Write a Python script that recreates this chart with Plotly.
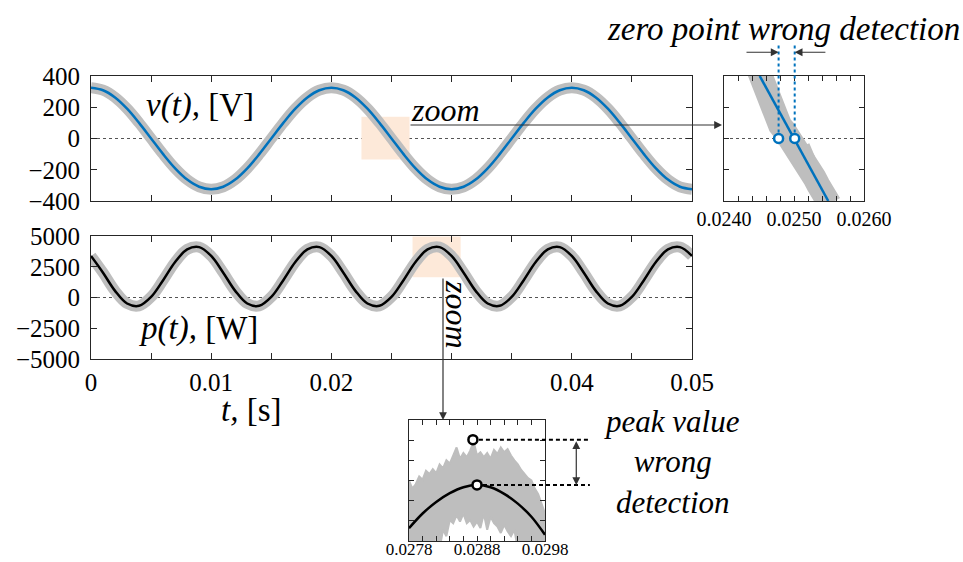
import plotly.graph_objects as go

W, H = 963, 562
SERIF = "Liberation Serif"
GRAY = "#bebebe"
BLUE = "#0072bd"
AX = "#262626"

# ---------------- main signals ----------------
T = [i / 1000 for i in range(51)]
V = [325, 309, 263, 191, 100, 0, -100, -191, -263, -309,
     -325, -309, -263, -191, -100, 0, 100, 191, 263, 309,
     325, 309, 263, 191, 100, 0, -100, -191, -263, -309,
     -325, -309, -263, -191, -100, 0, 100, 191, 263, 309,
     325, 309, 263, 191, 100, 0, -100, -191, -263, -309, -325]
P = [3375, 2014, 539, -489, -676, 45, 1406, 2881, 3909, 4096,
     3375, 2014, 539, -489, -676, 45, 1406, 2881, 3909, 4096,
     3375, 2014, 539, -489, -676, 45, 1406, 2881, 3909, 4096,
     3375, 2014, 539, -489, -676, 45, 1406, 2881, 3909, 4096,
     3375, 2014, 539, -489, -676, 45, 1406, 2881, 3909, 4096, 3375]

X_TICK_VALS = [0, 0.005, 0.01, 0.015, 0.02, 0.025, 0.03, 0.035, 0.04, 0.045, 0.05]
X_TICK_TEXT = ["0", "", "0.01", "", "0.02", "", "", "", "0.04", "", "0.05"]
V_TICKS = [-400, -200, 0, 200, 400]
P_TICKS = [-5000, -2500, 0, 2500, 5000]
P_TICK_TEXT = ["\u22125000", "\u22122500", "0", "2500", "5000"]

ZOOM_V_BOX_T = [0.0225, 0.0265]
ZOOM_V_BOX_V = [-135, 140]
ZOOM_P_BOX_T = [0.02675, 0.03075]
ZOOM_P_BOX_P = [1650, 4950]

# ---------------- inset 1 : zero point ----------------
Z1_RANGE = [0.024, 0.026]
Z1_TICK_VALS = [0.0240, 0.0242, 0.0244, 0.0246, 0.0248, 0.0250,
                0.0252, 0.0254, 0.0256, 0.0258, 0.0260]
Z1_TICK_TEXT = ["0.0240", "", "", "", "", "0.0250", "", "", "", "", "0.0260"]
Z1_GRAY_T = [0.02450, 0.02454, 0.02458, 0.02461, 0.02466, 0.02470, 0.02474,
             0.02480, 0.02486, 0.02493, 0.02500, 0.02507, 0.02513, 0.02519,
             0.02524, 0.02529, 0.02535, 0.02541, 0.02546, 0.02551]
Z1_GRAY_V = [430, 370, 310, 270, 224, 180, 138, 85, 52, 10, -34, -60, -99,
             -163, -200, -249, -300, -336, -370, -420]
Z1_BUMP_T = [0.02514, 0.02522]
Z1_BUMP_V = [-45, -130]
Z1_LINE_T = [0.02451, 0.02549]
Z1_LINE_V = [400, -400]
Z1_DET_T = [0.02478, 0.02501]
Z1_DET_V = [0, 0]

# ---------------- inset 2 : peak value ----------------
Z2_RANGE = [0.0278, 0.0298]
Z2_Y_RANGE = [3500, 5000]
Z2_TICK_VALS = [0.0278, 0.0280, 0.0282, 0.0284, 0.0286, 0.0288,
                0.0290, 0.0292, 0.0294, 0.0296, 0.0298]
Z2_TICK_TEXT = ["0.0278", "", "", "", "", "0.0288", "", "", "", "", "0.0298"]
Z2_Y_TICKS = [3750, 4000, 4250, 4500, 4750]
Z2_NOISE_T = [round(0.0278 + k * 0.00005, 6) for k in range(41)]
Z2_UPPER = [4248, 4150, 4207, 4300, 4260, 4370, 4330, 4390, 4340, 4450,
            4400, 4500, 4460, 4560, 4660, 4520, 4590, 4540, 4620, 4736,
            4560, 4600, 4540, 4590, 4520, 4630, 4580, 4660, 4600, 4640,
            4560, 4500, 4450, 4380, 4330, 4280, 4250, 4150, 4080, 3950, 3840]
Z2_LOWER = [3400, 3400, 3400, 3400, 3400, 3400, 3400, 3400, 3600, 3400,
            3640, 3560, 3760, 3720, 3820, 3740, 3840, 3720, 3760, 3680,
            3740, 3660, 3840, 3640, 3800, 3720, 3680, 3600, 3700, 3620,
            3560, 3640, 3400, 3400, 3400, 3400, 3400, 3400, 3400, 3400, 3400]
Z2_CURVE_T = [0.0278, 0.0280, 0.0282, 0.0284, 0.0286, 0.0288,
              0.0290, 0.0292, 0.0294, 0.0296, 0.0298]
Z2_CURVE_P = [3659, 3841, 3984, 4093, 4167, 4195, 4167, 4085, 3963, 3801, 3577]
Z2_PEAK_T = [0.02874, 0.02880]
Z2_PEAK_P = [4756, 4195]


def fx(px):
    return px / W


def fy(py):
    return 1 - py / H


fig = go.Figure()

# main voltage
fig.add_trace(go.Scatter(x=T, y=V, mode="lines", xaxis="x", yaxis="y",
                         line=dict(color=GRAY, width=11, shape="spline")))
fig.add_trace(go.Scatter(x=T, y=V, mode="lines", xaxis="x", yaxis="y",
                         line=dict(color=BLUE, width=2.5, shape="spline")))
# main power
fig.add_trace(go.Scatter(x=T, y=P, mode="lines", xaxis="x2", yaxis="y2",
                         line=dict(color=GRAY, width=11, shape="spline")))
fig.add_trace(go.Scatter(x=T, y=P, mode="lines", xaxis="x2", yaxis="y2",
                         line=dict(color="black", width=2.5, shape="spline")))
# inset 1
fig.add_trace(go.Scatter(x=Z1_GRAY_T, y=Z1_GRAY_V, mode="lines", xaxis="x3", yaxis="y3",
                         line=dict(color=GRAY, width=24)))
fig.add_trace(go.Scatter(x=Z1_BUMP_T, y=Z1_BUMP_V, mode="lines", xaxis="x3", yaxis="y3",
                         line=dict(color=GRAY, width=12)))
fig.add_trace(go.Scatter(x=Z1_LINE_T, y=Z1_LINE_V, mode="lines", xaxis="x3", yaxis="y3",
                         line=dict(color=BLUE, width=2.5)))
fig.add_trace(go.Scatter(x=Z1_DET_T, y=Z1_DET_V, mode="markers", xaxis="x3", yaxis="y3",
                         marker=dict(size=9, color="white", line=dict(color=BLUE, width=2.5))))
# inset 2
fig.add_trace(go.Scatter(x=Z2_NOISE_T + Z2_NOISE_T[::-1], y=Z2_UPPER + Z2_LOWER[::-1],
                         mode="lines", fill="toself", fillcolor=GRAY, xaxis="x4", yaxis="y4",
                         line=dict(color=GRAY, width=2)))
fig.add_trace(go.Scatter(x=Z2_CURVE_T, y=Z2_CURVE_P, mode="lines", xaxis="x4", yaxis="y4",
                         line=dict(color="black", width=2.5, shape="spline")))
fig.add_trace(go.Scatter(x=Z2_PEAK_T, y=Z2_PEAK_P, mode="markers", xaxis="x4", yaxis="y4",
                         marker=dict(size=9, color="white", line=dict(color="black", width=2.5))))

common = dict(showline=True, linecolor=AX, linewidth=1, mirror="ticks", ticks="inside",
              ticklen=6, tickcolor=AX, showgrid=False, zeroline=False, automargin=False,
              tickfont=dict(family=SERIF, size=25, color="black"))
small = dict(common, ticklen=5, tickfont=dict(family=SERIF, size=20, color="black"))

fig.update_layout(
    width=W, height=H, margin=dict(l=0, r=0, t=0, b=0),
    paper_bgcolor="white", plot_bgcolor="white", showlegend=False,
    xaxis=dict(common, domain=[fx(91), fx(692)], range=[0, 0.05], anchor="y",
               tickvals=X_TICK_VALS, showticklabels=False),
    yaxis=dict(common, domain=[fy(201), fy(76)], range=[-400, 400], anchor="x",
               tickvals=V_TICKS, ticklabelstandoff=5),
    xaxis2=dict(common, domain=[fx(91), fx(692)], range=[0, 0.05], anchor="y2",
                tickvals=X_TICK_VALS, ticktext=X_TICK_TEXT, ticklabelstandoff=1),
    yaxis2=dict(common, domain=[fy(359), fy(236)], range=[-5000, 5000], anchor="x2",
                tickvals=P_TICKS, ticktext=P_TICK_TEXT, ticklabelstandoff=5),
    xaxis3=dict(small, domain=[fx(724), fx(864)], range=Z1_RANGE, anchor="y3",
                tickvals=Z1_TICK_VALS, ticktext=Z1_TICK_TEXT, ticklabelstandoff=0),
    yaxis3=dict(small, domain=[fy(201), fy(76)], range=[-400, 400], anchor="x3",
                tickvals=V_TICKS, showticklabels=False),
    xaxis4=dict(small, domain=[fx(409), fx(545)], range=Z2_RANGE, anchor="y4",
                tickvals=Z2_TICK_VALS, ticktext=Z2_TICK_TEXT, ticklabelstandoff=-7,
                tickfont=dict(family=SERIF, size=17, color="black")),
    yaxis4=dict(small, domain=[fy(541), fy(420)], range=Z2_Y_RANGE, anchor="x4",
                tickvals=Z2_Y_TICKS, showticklabels=False),
)

# highlight boxes
fig.add_shape(type="rect", xref="x", yref="y", x0=ZOOM_V_BOX_T[0], x1=ZOOM_V_BOX_T[1],
              y0=ZOOM_V_BOX_V[0], y1=ZOOM_V_BOX_V[1], fillcolor="#fde9d9",
              line=dict(width=0), layer="below")
fig.add_shape(type="rect", xref="x2", yref="y2", x0=ZOOM_P_BOX_T[0], x1=ZOOM_P_BOX_T[1],
              y0=ZOOM_P_BOX_P[0], y1=ZOOM_P_BOX_P[1], fillcolor="#fde9d9",
              line=dict(width=0), layer="below")
# dotted zero lines
for xr, yr in (("x", "y"), ("x2", "y2"), ("x3", "y3")):
    fig.add_shape(type="line", xref=xr + " domain", yref=yr, x0=0, x1=1, y0=0, y1=0,
                  line=dict(color="#555555", width=1, dash="dot"), layer="below")

# inset 1 detection markers: dotted verticals
z1_zero_frac = (0 - (-400)) / 800
for t in Z1_DET_T:
    fig.add_shape(type="line", xref="x3", yref="y3 domain", x0=t, x1=t,
                  y0=z1_zero_frac + 6 / 124, y1=1.25,
                  line=dict(color=BLUE, width=2, dash="dot"))

# inset 2 dashed levels
for t, p in zip(Z2_PEAK_T, Z2_PEAK_P):
    frac = (t - Z2_RANGE[0]) / (Z2_RANGE[1] - Z2_RANGE[0])
    fig.add_shape(type="line", xref="x4 domain", yref="y4", x0=frac + 6 / 136, x1=1.33,
                  y0=p, y1=p, line=dict(color="black", width=2, dash="4px,3px"))

ital = dict(family=SERIF, size=33, color="black")
arrow = dict(showarrow=True, text="", arrowhead=2, arrowsize=1.3, arrowwidth=1.2,
             arrowcolor="#333333", standoff=0, startstandoff=0)
txt = dict(xref="paper", yref="paper", showarrow=False, xanchor="center", yanchor="middle")

fig.add_annotation(dict(txt, x=fx(200), y=fy(105), text="<i>v(t),</i> [V]", font=ital))
fig.add_annotation(dict(txt, x=fx(198), y=fy(328), text="<i>p(t),</i> [W]", font=ital))
fig.add_annotation(dict(txt, x=fx(251), y=fy(410), text="<i>t,</i> [s]", font=ital))
fig.add_annotation(dict(txt, x=fx(445), y=fy(110), text="<i>zoom</i>", font=dict(ital, size=32)))
fig.add_annotation(dict(arrow, x=fx(722), y=fy(125), xref="paper", yref="paper",
                        ax=409 - 722, ay=0, axref="pixel", ayref="pixel"))
fig.add_annotation(dict(txt, x=fx(457), y=fy(314), text="<i>zoom</i>", textangle=90,
                        font=dict(ital, size=32)))
fig.add_annotation(dict(arrow, x=fx(443), y=fy(420), xref="paper", yref="paper",
                        ax=0, ay=277 - 420, axref="pixel", ayref="pixel"))
fig.add_annotation(dict(txt, x=fx(783), y=fy(29), text="<i>zero point wrong detection</i>",
                        font=ital))
fig.add_annotation(dict(arrow, x=Z1_DET_T[0], y=1.19, xref="x3", yref="y3 domain",
                        ax=0.0243, ay=1.19, axref="x3", ayref="y3 domain"))
fig.add_annotation(dict(arrow, x=Z1_DET_T[1], y=1.19, xref="x3", yref="y3 domain",
                        ax=0.02547, ay=1.19, axref="x3", ayref="y3 domain"))
fig.add_annotation(dict(txt, x=fx(672), y=fy(462),
                        text="<i>peak value<br>wrong<br>detection</i>",
                        font=dict(ital, size=31)))
fig.add_annotation(dict(arrow, x=1.23, y=Z2_PEAK_P[1], xref="x4 domain", yref="y4",
                        ax=1.23, ay=Z2_PEAK_P[0], axref="x4 domain", ayref="y4",
                        arrowside="end+start"))

fig.write_html("out.html", config={"displayModeBar": False},
               post_script="document.body.style.margin='0px';")
